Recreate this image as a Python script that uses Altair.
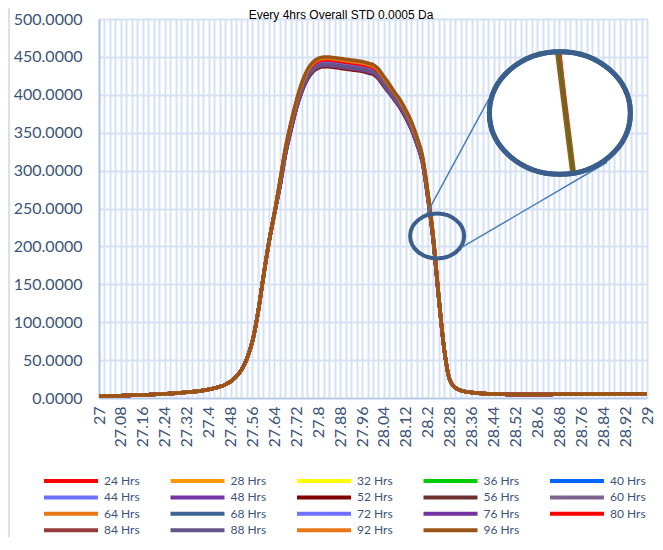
import altair as alt
import pandas as pd

# ---------------- data ----------------
SERIES = ["24 Hrs", "28 Hrs", "32 Hrs", "36 Hrs", "40 Hrs", "44 Hrs", "48 Hrs",
          "52 Hrs", "56 Hrs", "60 Hrs", "64 Hrs", "68 Hrs", "72 Hrs", "76 Hrs",
          "80 Hrs", "84 Hrs", "88 Hrs", "92 Hrs", "96 Hrs"]
COLORS = ["#FF0000", "#FF9900", "#FFFF00", "#00CC00", "#0066FF", "#6E70FF", "#7434A6",
          "#800000", "#6E302D", "#7E6390", "#E97717", "#3C6594", "#6F70FF", "#7431A3",
          "#FF0000", "#963B3B", "#665389", "#E97717", "#9A5416"]

# m/z categories 27.00 .. 29.00 (step 0.02)
X_VALUES = [round(27 + 0.02 * i, 2) for i in range(101)]

# shared low tails (27.00-27.64 and 28.26-29.00)
LEFT = [2.5, 2.6, 2.7, 2.9, 3.1, 3.3, 3.5, 3.8, 4.1, 4.4, 4.7, 5.0, 5.4, 5.8, 6.3,
        6.9, 7.5, 8.2, 9.0, 10.0, 11.3, 12.8, 14.8, 17.5, 21.5, 28.0, 37.0, 52.0,
        75.0, 112.0, 160.0, 205.0, 243.0]
RIGHT = [64, 24, 14, 10, 8.4, 7.3, 6.5, 6.0, 5.6, 5.3, 5.0, 4.8, 4.7, 4.6, 4.5, 4.5,
         4.5, 4.5, 4.6, 4.7, 4.8, 4.9, 5.0, 5.0, 5.1, 5.1, 5.2, 5.2, 5.3, 5.3, 5.4,
         5.4, 5.5, 5.5, 5.6, 5.6, 5.7, 5.7]

# peak section 27.66 .. 28.24 per series
H24 = [283, 326, 360, 389, 412, 429, 439, 444, 446, 446, 445, 444, 443, 442, 441, 440, 438, 436, 430, 420, 410, 400, 390, 377, 362, 342, 317, 269, 211, 134]
H28 = [284, 327, 360, 390, 413, 430, 440, 445, 447, 447, 446, 445, 444, 443, 442, 441, 439, 437, 431, 421, 411, 401, 391, 378, 362, 342, 318, 270, 211, 134]
H32 = [283, 326, 359, 388, 411, 428, 438, 443, 445, 445, 444, 443, 442, 441, 440, 439, 437, 435, 429, 419, 409, 399, 389, 376, 361, 341, 317, 269, 210, 133]
H36 = [282, 325, 358, 387, 410, 427, 437, 442, 444, 444, 443, 442, 441, 440, 439, 438, 436, 434, 428, 418, 408, 398, 388, 375, 360, 340, 316, 268, 210, 133]
H40 = [281, 324, 357, 386, 409, 426, 436, 441, 443, 443, 442, 441, 440, 439, 438, 437, 435, 433, 427, 417, 407, 397, 387, 374, 359, 339, 315, 267, 210, 133]
H44 = [281, 324, 356, 385, 408, 425, 435, 440, 442, 442, 441, 440, 439, 438, 437, 436, 434, 432, 426, 416, 406, 396, 386, 373, 358, 338, 315, 267, 209, 132]
H48 = [280, 323, 356, 384, 407, 424, 434, 439, 441, 441, 440, 439, 438, 437, 436, 435, 433, 431, 425, 415, 405, 395, 385, 372, 358, 338, 314, 266, 209, 132]
H52 = [278, 320, 352, 381, 404, 420, 430, 435, 437, 437, 436, 435, 434, 433, 432, 431, 429, 427, 421, 411, 402, 392, 382, 369, 354, 335, 311, 264, 207, 131]
H56 = [278, 321, 353, 382, 404, 421, 431, 436, 438, 438, 437, 436, 435, 434, 433, 432, 430, 428, 422, 412, 402, 393, 383, 370, 355, 335, 312, 264, 207, 131]
H60 = [279, 321, 354, 383, 405, 422, 432, 437, 439, 439, 438, 437, 436, 435, 434, 433, 431, 429, 423, 413, 403, 393, 384, 371, 356, 336, 312, 265, 208, 131]
H64 = [284, 327, 360, 390, 413, 430, 440, 445, 447, 447, 446, 445, 444, 443, 442, 441, 439, 437, 431, 421, 411, 401, 391, 378, 362, 342, 318, 270, 211, 134]
H68 = [279, 322, 355, 384, 406, 423, 433, 438, 440, 440, 439, 438, 437, 436, 435, 434, 432, 430, 424, 414, 404, 394, 385, 372, 357, 337, 313, 266, 208, 132]
H72 = [280, 323, 356, 384, 407, 424, 434, 439, 441, 441, 440, 439, 438, 437, 436, 435, 433, 431, 425, 415, 405, 395, 385, 372, 358, 338, 314, 266, 209, 132]
H76 = [279, 321, 354, 383, 405, 422, 432, 437, 439, 439, 438, 437, 436, 435, 434, 433, 431, 429, 423, 413, 403, 393, 384, 371, 356, 336, 312, 265, 208, 131]
H80 = [283, 326, 360, 389, 412, 429, 439, 444, 446, 446, 445, 444, 443, 442, 441, 440, 438, 436, 430, 420, 410, 400, 390, 377, 362, 342, 317, 269, 211, 134]
H84 = [279, 322, 355, 384, 406, 423, 433, 438, 440, 440, 439, 438, 437, 436, 435, 434, 432, 430, 424, 414, 404, 394, 385, 372, 357, 337, 313, 266, 208, 132]
H88 = [279, 322, 355, 384, 406, 423, 433, 438, 440, 440, 439, 438, 437, 436, 435, 434, 432, 430, 424, 414, 404, 394, 385, 372, 357, 337, 313, 266, 208, 132]
H92 = [285, 328, 361, 390, 414, 431, 441, 446, 448, 448, 447, 446, 445, 444, 443, 442, 440, 438, 432, 422, 412, 402, 391, 378, 363, 343, 319, 270, 212, 134]
H96 = [286, 329, 363, 392, 416, 433, 443, 448, 450, 450, 449, 448, 447, 446, 445, 444, 442, 440, 434, 424, 414, 403, 393, 380, 365, 345, 320, 272, 213, 135]
PEAKS = [H24, H28, H32, H36, H40, H44, H48, H52, H56, H60, H64, H68, H72, H76,
         H80, H84, H88, H92, H96]

Y_TICKS = [0, 50, 100, 150, 200, 250, 300, 350, 400, 450, 500]
TITLE = "Every 4hrs Overall STD 0.0005 Da"

# magnifier annotation (data coordinates)
SMALL_X, SMALL_Y = [28.234], [213.7]
BIG_X, BIG_Y = [28.682], [376.0]
CONN_X, CONN_Y = [28.197, 28.325], [244.0, 199.0]
CONN_X2, CONN_Y2 = [28.423, 28.854], [394.5, 311.0]
INSET_X, INSET_Y, INSET_X2, INSET_Y2 = [28.675], [456.5], [28.730], [298.0]

rows = []
for name, peak in zip(SERIES, PEAKS):
    vals = LEFT + peak + RIGHT
    for xv, yv in zip(X_VALUES, vals):
        rows.append({"x": xv, "value": yv, "series": name})
df = pd.DataFrame(rows)

# ---------------- styling ----------------
LABEL_COLOR = "#3B5478"
GRID = "#D6E2F3"

def xenc():
    return alt.X("x:Q", scale=alt.Scale(domain=[27, 29], nice=False, zero=False),
                 axis=alt.Axis(values=X_VALUES, title=None, ticks=False, grid=True,
                               gridColor=GRID, gridWidth=2, domainColor="#B4C7E7",
                               domainWidth=1.5, labelAngle=270, labelAlign="right",
                               labelBaseline="middle", labelPadding=8,
                               labelOverlap=False, labelFlush=False,
                               labelFont="Lato", labelFontSize=16,
                               labelColor=LABEL_COLOR,
                               labelExpr="(round(datum.value*100)-2700) % 8 == 0 ? format(datum.value, '.2~f') : ''"))

def yenc():
    return alt.Y("value:Q", scale=alt.Scale(domain=[0, 500], nice=False, zero=True),
                 axis=alt.Axis(values=Y_TICKS, format=".4f", title=None, ticks=False,
                               grid=True, gridColor=GRID, gridWidth=2,
                               domainColor="#B4C7E7", domainWidth=2,
                               labelPadding=17, labelFont="Lato", labelFontSize=16,
                               labelColor=LABEL_COLOR))

lines = alt.Chart(df).mark_line(strokeWidth=3.5, interpolate="monotone").encode(
    x=xenc(), y=yenc(),
    color=alt.Color("series:N", sort=SERIES,
                    scale=alt.Scale(domain=SERIES, range=COLORS),
                    legend=alt.Legend(title=None, orient="none", legendX=-57, legendY=456,
                                      direction="horizontal", columns=5,
                                      symbolType="stroke", symbolSize=2916,
                                      symbolStrokeWidth=4, labelFont="Lato",
                                      labelFontSize=12, labelColor=LABEL_COLOR,
                                      labelOffset=4, columnPadding=28.5, rowPadding=4.4,
                                      clipHeight=12, padding=0)),
)

RING = "#3B5F8C"
SMALL_SHAPE = "M-1,0A1,0.83,0,1,1,1,0A1,0.83,0,1,1,-1,0Z"
BIG_SHAPE = "M-1,0A1,0.87,0,1,1,1,0A1,0.87,0,1,1,-1,0Z"

small = alt.Chart(pd.DataFrame({"x": SMALL_X, "value": SMALL_Y})).mark_point(
    shape=SMALL_SHAPE, size=2916, filled=False, stroke=RING, strokeWidth=4, opacity=1
).encode(x=xenc(), y=yenc())

conn = alt.Chart(pd.DataFrame({"x": CONN_X, "value": CONN_Y, "x2": CONN_X2, "value2": CONN_Y2})).mark_rule(
    color="#4A7EBB", strokeWidth=1.5
).encode(x=xenc(), y=yenc(), x2="x2:Q", y2="value2:Q")

big_fill = alt.Chart(pd.DataFrame({"x": BIG_X, "value": BIG_Y})).mark_point(
    shape=BIG_SHAPE, size=19881, filled=True, fill="white", stroke=RING, strokeWidth=5, opacity=1
).encode(x=xenc(), y=yenc())

inset_df = pd.DataFrame({"x": INSET_X, "value": INSET_Y, "x2": INSET_X2, "value2": INSET_Y2})
inset_brown = alt.Chart(inset_df).mark_rule(color="#A0581E", strokeWidth=6).encode(
    x=xenc(), y=yenc(), x2="x2:Q", y2="value2:Q")
inset_red = alt.Chart(inset_df).mark_rule(color="#E0301E", strokeWidth=1.2, xOffset=3).encode(
    x=xenc(), y=yenc(), x2="x2:Q", y2="value2:Q")
inset_green = alt.Chart(inset_df).mark_rule(color="#3F7A1E", strokeWidth=2).encode(
    x=xenc(), y=yenc(), x2="x2:Q", y2="value2:Q")

big_ring = alt.Chart(pd.DataFrame({"x": BIG_X, "value": BIG_Y})).mark_point(
    shape=BIG_SHAPE, size=19881, filled=False, stroke=RING, strokeWidth=5, opacity=1
).encode(x=xenc(), y=yenc())

border = alt.Chart(pd.DataFrame({"x": [27.0]})).mark_rule(color="#C9D7EE", strokeWidth=1.5).encode(
    x=alt.value(-90), y=alt.value(-11), y2=alt.value(520))

title = alt.Chart(pd.DataFrame({"t": [TITLE]})).mark_text(
    font="Liberation Sans", fontSize=12, color="#000000", align="center",
    baseline="alphabetic"
).encode(x=alt.value(242), y=alt.value(0), text="t:N")

chart = alt.layer(
    border, lines, small, conn, big_fill, inset_brown, inset_red, inset_green, big_ring, title
).properties(
    width=548, height=379,
    autosize=alt.AutoSizeParams(type="none"),
    padding={"left": 91, "top": 11, "right": 8, "bottom": 139},
).configure_view(strokeWidth=0)

chart.save("out.html", embed_options={"renderer": "svg", "actions": False})
